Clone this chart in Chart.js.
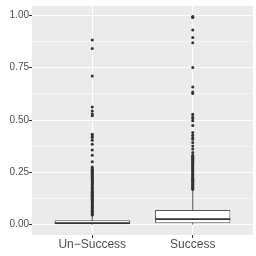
<!DOCTYPE html>
<html>
<head>
<meta charset="utf-8">
<script src="https://cdn.jsdelivr.net/npm/chart.js@4"></script>
<style>
  html, body { margin: 0; padding: 0; background: #ffffff; }
  #c { display: block; }
</style>
</head>
<body>
<canvas id="c" width="256" height="256"></canvas>
<script>
// ---- data ----
const categories = ['Un\u2212Success', 'Success'];
const q1 = [0.002, 0.007];
const medians = [0.007, 0.026];
const q3 = [0.021, 0.070];
const whiskerLow = [0, 0];
const whiskerHigh = [0.044, 0.164];

const outliersUnSuccess = [
  0.046, 0.050, 0.055, 0.060, 0.064, 0.070, 0.075, 0.080, 0.084, 0.090,
  0.095, 0.100, 0.105, 0.110, 0.115, 0.120, 0.125, 0.130, 0.135, 0.140,
  0.145, 0.150, 0.155, 0.160, 0.165, 0.170, 0.175, 0.180, 0.185, 0.190,
  0.195, 0.200, 0.205, 0.210, 0.215, 0.220, 0.225, 0.230, 0.235, 0.240,
  0.245, 0.250, 0.255, 0.260, 0.265, 0.270, 0.275,
  0.301, 0.332, 0.357, 0.384, 0.403, 0.416, 0.424, 0.432,
  0.520, 0.529, 0.543, 0.562, 0.710, 0.842, 0.883
];
const outliersSuccess = [
  0.168, 0.172, 0.177, 0.182, 0.187, 0.192, 0.197, 0.202, 0.207, 0.212,
  0.217, 0.222, 0.227, 0.232, 0.237, 0.242, 0.247, 0.252, 0.257, 0.262,
  0.267, 0.272, 0.277, 0.282, 0.287, 0.292, 0.297, 0.302, 0.307, 0.312,
  0.317, 0.322, 0.327, 0.332, 0.345, 0.361, 0.376, 0.392, 0.408, 0.416,
  0.427, 0.440, 0.474, 0.496, 0.507, 0.516, 0.527, 0.627, 0.634, 0.658,
  0.751, 0.869, 0.895, 0.930, 0.990, 0.993, 0.995
];

const yMajorTicks = [0, 0.25, 0.5, 0.75, 1.0];
const yMinorTicks = [0.125, 0.375, 0.625, 0.875];

// ---- build datasets from the arrays ----
const boxData = categories.map((c, i) => ({ x: i + 1, y: [q1[i], q3[i]] }));
const medianData = categories.map((c, i) => ({ x: i + 1, y: medians[i] }));
const whiskerData = [];
categories.forEach((c, i) => {
  whiskerData.push({ x: i + 1, y: whiskerLow[i] });
  whiskerData.push({ x: i + 1, y: whiskerHigh[i] });
  whiskerData.push({ x: i + 1, y: null });
});
const outlierData = [];
[outliersUnSuccess, outliersSuccess].forEach((arr, i) => {
  arr.forEach(v => outlierData.push({ x: i + 1, y: v }));
});

const panelBg = {
  id: 'panelBg',
  beforeDraw(chart) {
    const { ctx, chartArea: a } = chart;
    ctx.save();
    ctx.fillStyle = '#ffffff';
    ctx.fillRect(0, 0, chart.width, chart.height);
    ctx.fillStyle = '#EBEBEB';
    ctx.fillRect(a.left, a.top, a.right - a.left, a.bottom - a.top);
    ctx.restore();
  }
};

const isMajor = v => yMajorTicks.some(t => Math.abs(t - v) < 1e-9);

new Chart(document.getElementById('c'), {
  type: 'bar',
  data: {
    datasets: [
      {
        type: 'scatter',
        label: 'outliers',
        data: outlierData,
        order: 0,
        pointRadius: 1.5,
        pointStyle: 'circle',
        pointBackgroundColor: '#333333',
        pointBorderColor: '#333333',
        pointBorderWidth: 0,
        showLine: false
      },
      {
        type: 'scatter',
        label: 'median',
        data: medianData,
        order: 1,
        pointStyle: 'line',
        pointRadius: 37.5,
        pointBorderColor: '#333333',
        pointBorderWidth: 1.6,
        showLine: false
      },
      {
        type: 'bar',
        label: 'box',
        data: boxData,
        order: 2,
        backgroundColor: '#ffffff',
        borderColor: '#555555',
        borderWidth: 1,
        borderSkipped: false,
        categoryPercentage: 1,
        barPercentage: 0.75,
        grouped: false
      },
      {
        type: 'line',
        label: 'whiskers',
        data: whiskerData,
        order: 3,
        borderColor: '#555555',
        borderWidth: 1,
        pointRadius: 0,
        spanGaps: false,
        fill: false
      }
    ]
  },
  options: {
    responsive: false,
    animation: false,
    devicePixelRatio: 1,
    layout: { autoPadding: false, padding: { top: 2, right: 3, left: 0, bottom: 0 } },
    plugins: {
      legend: { display: false },
      tooltip: { enabled: false },
      title: { display: false }
    },
    scales: {
      x: {
        type: 'linear',
        min: 0.4,
        max: 2.6,
        offset: false,
        border: { display: false },
        grid: {
          offset: false,
          color: '#ffffff',
          lineWidth: 1,
          tickColor: '#333333',
          tickLength: 3,
          drawTicks: true
        },
        afterBuildTicks(scale) {
          scale.ticks = categories.map((c, i) => ({ value: i + 1 }));
        },
        afterFit(scale) { scale.height = 21; },
        ticks: {
          autoSkip: false,
          maxRotation: 0,
          padding: -1,
          color: '#4D4D4D',
          font: { family: 'Liberation Sans', size: 12 },
          callback: v => categories[Math.round(v) - 1]
        }
      },
      y: {
        type: 'linear',
        min: -0.0497,
        max: 1.045,
        border: { display: false },
        grid: {
          color: '#ffffff',
          lineWidth: c => (isMajor(c.tick.value) ? 1 : 0.5),
          tickColor: c => (isMajor(c.tick.value) ? '#333333' : 'rgba(0,0,0,0)'),
          tickLength: 3,
          drawTicks: true
        },
        afterBuildTicks(scale) {
          scale.ticks = yMajorTicks.concat(yMinorTicks)
            .sort((a, b) => a - b)
            .map(v => ({ value: v }));
        },
        afterFit(scale) { scale.width = 32; },
        ticks: {
          autoSkip: false,
          padding: 0,
          color: '#4D4D4D',
          font: { family: 'Liberation Sans', size: 10 },
          callback: v => (isMajor(v) ? v.toFixed(2) : '')
        }
      }
    }
  },
  plugins: [panelBg]
});
</script>
</body>
</html>
